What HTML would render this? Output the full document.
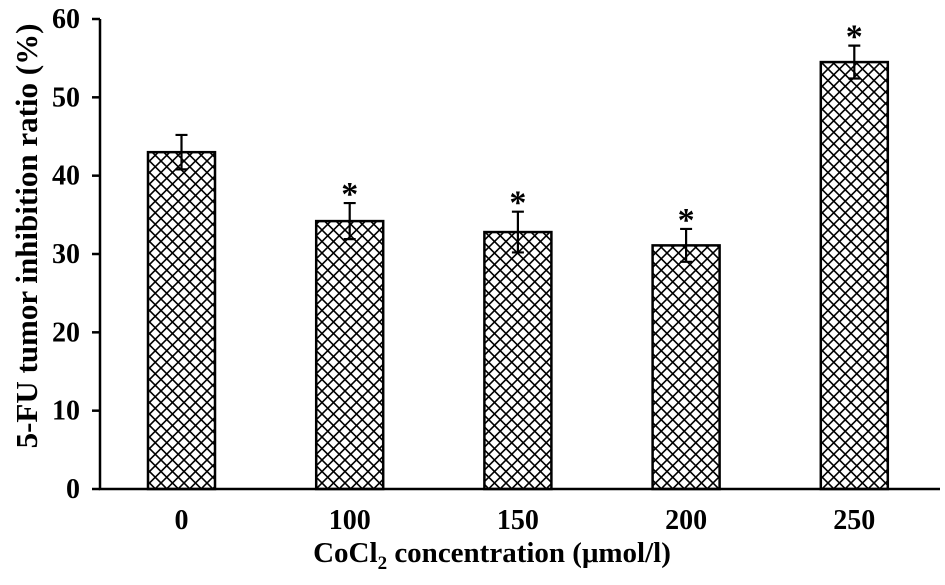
<!DOCTYPE html>
<html><head><meta charset="utf-8"><style>
html,body{margin:0;padding:0;background:#fff;width:945px;height:585px;overflow:hidden}
text{font-family:"Liberation Serif",serif;font-weight:bold;fill:#000}
</style></head><body>
<svg id="chart" width="945" height="585" viewBox="0 0 945 585">
<defs>
<pattern id="hatch" patternUnits="userSpaceOnUse" width="11.5" height="11.5">
<path d="M0,0 L11.5,11.5 M11.5,0 L0,11.5" stroke="#000" stroke-width="1.6"/>
</pattern>
</defs>
<g id="plot"></g>
<text transform="translate(37,236) rotate(-90)" text-anchor="middle" font-size="31">5-FU tumor inhibition ratio (%)</text>
<text x="492" y="562" text-anchor="middle" font-size="29">CoCl<tspan font-size="19" dy="7">2</tspan><tspan dy="-7"> concentration (μmol/l)</tspan></text>
</svg>
<script>
const categories = ["0","100","150","200","250"];
const values = [43.0, 34.2, 32.8, 31.1, 54.5];
const errors = [2.2, 2.3, 2.6, 2.1, 2.1];
const significant = [false, true, true, true, true];
const yTicks = [0,10,20,30,40,50,60];

const ns = "http://www.w3.org/2000/svg";
const g = document.getElementById("plot");
const y0 = 489, pxPerUnit = 470/60;
function y(v){ return y0 - v*pxPerUnit; }
function xc(i){ return 181.5 + i*168.2; }
const barW = 67;
function mk(tag, attrs, parent){
  const e = document.createElementNS(ns, tag);
  for (const k in attrs) e.setAttribute(k, attrs[k]);
  (parent||g).appendChild(e); return e;
}

values.forEach((v,i)=>{
  const r = mk("rect",{x:xc(i)-barW/2,y:y(v),width:barW,height:y0-y(v),fill:"url(#hatch)",stroke:"#000","stroke-width":2.5});
  
  
  const eb = mk("path",{d:`M${xc(i)},${y(v-errors[i])} L${xc(i)},${y(v+errors[i])} M${xc(i)-6},${y(v+errors[i])} L${xc(i)+6},${y(v+errors[i])} M${xc(i)-6},${y(v-errors[i])} L${xc(i)+6},${y(v-errors[i])}`,stroke:"#000","stroke-width":2.2,fill:"none"});
  
  
  if (significant[i]) {
    const s = mk("text",{x:xc(i),y:y(v+errors[i])+2,"text-anchor":"middle","font-size":"34"});
    s.textContent = "*";
    
    
  }
  const t = mk("text",{x:xc(i),y:529,"text-anchor":"middle","font-size":"28"});
  t.textContent = categories[i];
  
  
});

const ax = mk("path",{d:`M100,${y(60)} L100,${y0} L940,${y0}`,stroke:"#000","stroke-width":2.5,fill:"none"});


yTicks.forEach(t=>{
  const l = mk("line",{x1:92,x2:100,y1:y(t),y2:y(t),stroke:"#000","stroke-width":2.5});
  
  
  const tx = mk("text",{x:80,y:y(t)+9,"text-anchor":"end","font-size":"28"});
  tx.textContent = t;
  
  
});
</script>
</body></html>
